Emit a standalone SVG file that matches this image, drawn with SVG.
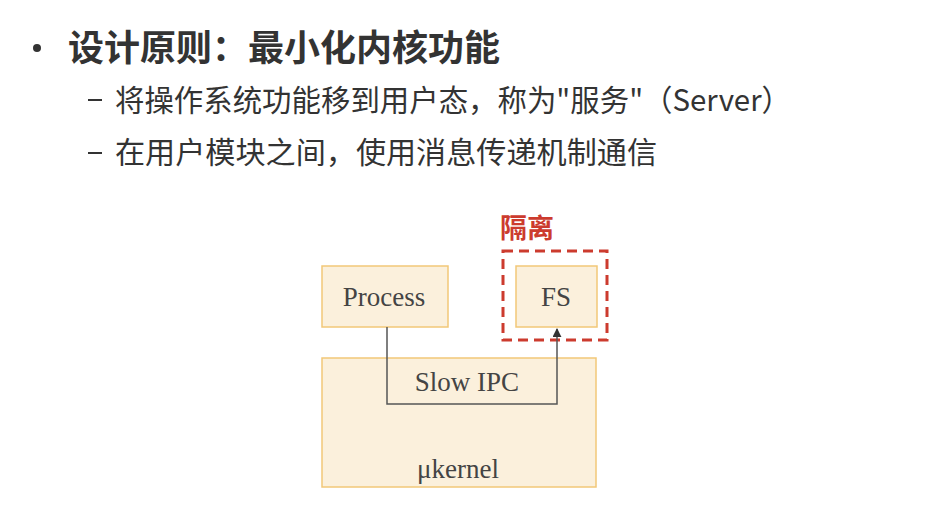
<svg xmlns="http://www.w3.org/2000/svg" width="928" height="509" viewBox="0 0 928 509">
<defs>
<style>
.cjk{font-family:"Noto Sans CJK SC","Noto Sans",sans-serif;fill:#333}
.box{fill:#fbf0dc;stroke:#f2c878;stroke-width:1.5}
.lbl{font-family:"Liberation Serif",serif;font-size:27px;fill:#444;text-anchor:middle}
.conn{fill:none;stroke:#555;stroke-width:1.5}
</style>
<marker id="arr" viewBox="0 0 10 10" refX="9" refY="5" markerWidth="6" markerHeight="6" orient="auto">
<path d="M0,0 L10,5 L0,10 z" fill="#333"/>
</marker>
</defs>
<rect width="928" height="509" fill="#fff"/>
<g id="title">
<circle cx="37" cy="48" r="4" fill="#333"/>
<text class="cjk" x="68" y="61" font-size="36" font-weight="bold" textLength="432" lengthAdjust="spacingAndGlyphs">设计原则：最小化内核功能</text>
</g>
<g id="bullets">
<rect x="88" y="99" width="14" height="2" fill="#333"/>
<text class="cjk" x="115" y="111" font-size="30" textLength="676" lengthAdjust="spacingAndGlyphs">将操作系统功能移到用户态，称为"服务"（Server）</text>
<rect x="88" y="152" width="14" height="2" fill="#333"/>
<text class="cjk" x="115" y="163" font-size="30" textLength="542" lengthAdjust="spacingAndGlyphs">在用户模块之间，使用消息传递机制通信</text>
</g>
<g id="kernel">
<rect class="box" x="322" y="358" width="274" height="129"/>
<text class="lbl" x="467" y="391">Slow IPC</text>
<text class="lbl" x="458" y="478">μkernel</text>
</g>
<g id="process">
<rect class="box" x="322" y="266" width="126" height="61"/>
<text class="lbl" x="384" y="306">Process</text>
</g>
<g id="isolation">
<rect x="503" y="251" width="104" height="89" fill="none" stroke="#cc3b2e" stroke-width="3" stroke-dasharray="10,6"/>
<text x="500" y="238" font-family="Noto Sans CJK SC,sans-serif" font-size="27" font-weight="bold" fill="#cc3b2e">隔离</text>
</g>
<g id="fs">
<rect class="box" x="516" y="266" width="81" height="61"/>
<text class="lbl" x="556" y="306">FS</text>
</g>
<g id="connectors">
<path class="conn" d="M387,327 V404 H557 V329" marker-end="url(#arr)"/>
</g>
</svg>
